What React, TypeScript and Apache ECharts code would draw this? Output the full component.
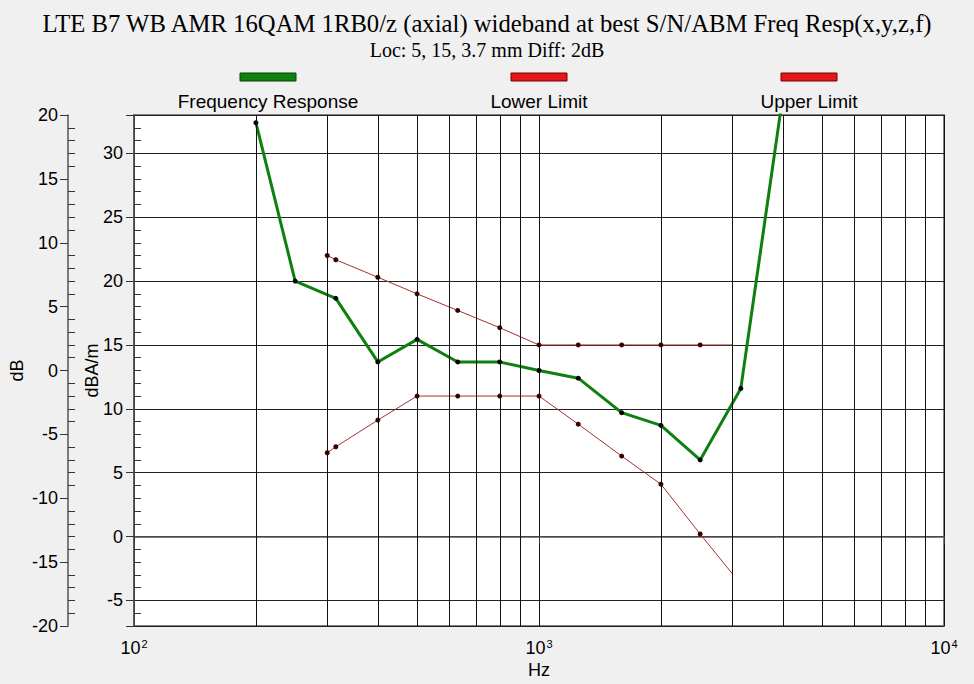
import React, { useEffect, useRef } from 'react';
import * as echarts from 'echarts';

const titleText = 'LTE B7 WB AMR 16QAM 1RB0/z (axial) wideband at best S/N/ABM Freq Resp(x,y,z,f)';
const subtitleText = 'Loc: 5, 15, 3.7 mm Diff: 2dB';

const seriesNames = ['Frequency Response', 'Lower Limit', 'Upper Limit'];

// Frequency response (dBA/m)
const respFreqs = [200, 250, 315, 400, 500, 630, 800, 1000, 1250, 1600, 2000, 2500, 3150, 4000];
const respValues = [32.4, 20.0, 18.65, 13.67, 15.44, 13.67, 13.67, 13.0, 12.4, 9.7, 8.7, 6.0, 11.6, 34.5];

// Limits (dBA/m)
const limitFreqs = [300, 315, 400, 500, 630, 800, 1000, 1250, 1600, 2000, 2500, 3000];
const lowerValues = [6.56, 7.03, 9.12, 11.0, 11.0, 11.0, 11.0, 8.8, 6.3, 4.1, 0.2, -2.9];
const upperValues = [22.0, 21.67, 20.3, 19.0, 17.7, 16.35, 15.0, 15.0, 15.0, 15.0, 15.0, 15.0];

// Minor log gridlines (Hz)
const minorFreqs = [200, 300, 400, 500, 600, 700, 800, 900, 2000, 3000, 4000, 5000, 6000, 7000, 8000, 9000];

const GREEN = '#0f7f0f';
const RED_LINE = '#a83030';
const RED_LEGEND = '#e01818';

export default function App() {
  const ref = useRef<HTMLDivElement>(null);

  useEffect(() => {
    document.body.style.margin = '0';
    document.body.style.background = '#f0f0f0';
    const chart = echarts.init(ref.current!, null, { renderer: 'svg' });

    const respData = respFreqs.map((f, i) => [f, respValues[i]]);
    const limitData = (vals: number[]) =>
      limitFreqs.map((f, i) => ({
        value: [f, vals[i]],
        symbol: i === limitFreqs.length - 1 ? 'none' : 'circle',
      }));

    const legendCenters = [268, 539, 809];
    const legendColors = [GREEN, RED_LEGEND, RED_LEGEND];
    const legendBorders = ['#064006', '#7a0000', '#7a0000'];
    const legendGraphics: any[] = [];
    seriesNames.forEach((n, i) => {
      legendGraphics.push({
        type: 'rect',
        shape: { x: legendCenters[i] - 28, y: 73, width: 56, height: 8 },
        style: { fill: legendColors[i], stroke: legendBorders[i], lineWidth: 1 },
      });
      legendGraphics.push({
        type: 'text',
        x: legendCenters[i],
        y: 101,
        style: {
          text: n,
          fill: '#000',
          font: '19px "Liberation Sans", Arial, sans-serif',
          align: 'center',
          verticalAlign: 'middle',
        },
      });
    });

    const axisLabelFont = { fontFamily: '"Liberation Sans", Arial, sans-serif', fontSize: 18, color: '#000' };

    chart.setOption({
      animation: false,
      backgroundColor: '#f0f0f0',
      title: {
        text: titleText,
        subtext: subtitleText,
        left: 'center',
        top: 6,
        itemGap: 4,
        textStyle: {
          fontFamily: '"Liberation Serif", "Times New Roman", serif',
          fontSize: 24.7,
          fontWeight: 'normal',
          color: '#000',
        },
        subtextStyle: {
          fontFamily: '"Liberation Serif", "Times New Roman", serif',
          fontSize: 20,
          color: '#000',
        },
      },
      graphic: legendGraphics,
      grid: {
        left: 134,
        right: 30,
        top: 115,
        bottom: 58,
        containLabel: false,
        outerBoundsMode: 'none',
        show: true,
        backgroundColor: '#ffffff',
        borderColor: '#808080',
        borderWidth: 2,
      },
      xAxis: {
        type: 'log',
        logBase: 10,
        min: 100,
        max: 10000,
        name: 'Hz',
        nameLocation: 'middle',
        nameGap: 35,
        nameMoveOverlap: false,
        nameTextStyle: axisLabelFont,
        axisLine: { show: true, lineStyle: { color: '#555', width: 1.5 } },
        axisTick: { show: true, inside: false, length: 8, lineStyle: { color: '#333' } },
        splitLine: { show: true, lineStyle: { color: '#111', width: 1 } },
        axisLabel: {
          margin: 12,
          formatter: (v: number) => `{b|10}{s|${Math.round(Math.log10(v))}}`,
          rich: {
            b: { ...axisLabelFont },
            s: { fontFamily: axisLabelFont.fontFamily, fontSize: 11, color: '#000', verticalAlign: 'top', padding: [0, 0, 8, 1] },
          },
        },
      },
      yAxis: [
        {
          type: 'value',
          position: 'left',
          min: -7,
          max: 33,
          splitNumber: 8,
          name: 'dBA/m',
          nameLocation: 'middle',
          nameGap: 33,
          nameMoveOverlap: false,
          nameTextStyle: axisLabelFont,
          axisLine: { show: true, lineStyle: { color: '#555', width: 1.5 } },
          axisTick: { show: true, inside: false, length: 8, lineStyle: { color: '#333' } },
          minorTick: { show: true, splitNumber: 5, length: -7, lineStyle: { color: '#333' } },
          axisLabel: { ...axisLabelFont, margin: 11, showMinLabel: false, showMaxLabel: false },
          splitLine: { show: true, lineStyle: { color: '#222', width: 1 } },
        },
        {
          type: 'value',
          position: 'left',
          offset: 66,
          min: -20,
          max: 20,
          interval: 5,
          name: 'dB',
          nameLocation: 'middle',
          nameGap: 42,
          nameMoveOverlap: false,
          nameTextStyle: axisLabelFont,
          axisLine: { show: true, onZero: false, lineStyle: { color: '#555', width: 1.5 } },
          axisTick: { show: true, inside: false, length: 8, lineStyle: { color: '#333' } },
          minorTick: { show: true, splitNumber: 5, length: -7, lineStyle: { color: '#333' } },
          axisLabel: { ...axisLabelFont, margin: 10 },
          splitLine: { show: false },
        },
      ],
      series: [
        {
          name: 'minor-grid',
          type: 'line',
          data: [],
          z: 1,
          silent: true,
          markLine: {
            silent: true,
            symbol: ['none', 'none'],
            label: { show: false },
            lineStyle: { color: '#111', width: 1, type: 'solid' },
            emphasis: { disabled: true },
            data: minorFreqs.map((f) => ({ xAxis: f })),
          },
        },
        {
          name: seriesNames[1],
          type: 'line',
          yAxisIndex: 0,
          data: limitData(lowerValues),
          symbol: 'circle',
          symbolSize: 5,
          itemStyle: { color: '#3a0000' },
          lineStyle: { color: RED_LINE, width: 1 },
          z: 3,
        },
        {
          name: seriesNames[2],
          type: 'line',
          yAxisIndex: 0,
          data: limitData(upperValues),
          symbol: 'circle',
          symbolSize: 5,
          itemStyle: { color: '#3a0000' },
          lineStyle: { color: RED_LINE, width: 1 },
          z: 3,
        },
        {
          name: seriesNames[0],
          type: 'line',
          yAxisIndex: 0,
          data: respData,
          symbol: 'circle',
          symbolSize: 5,
          itemStyle: { color: '#000' },
          lineStyle: { color: GREEN, width: 3 },
          clip: true,
          z: 4,
        },
      ],
    });

    return () => chart.dispose();
  }, []);

  return (
    <div
      ref={ref}
      style={{ position: 'absolute', left: 0, top: 0, width: 974, height: 684, background: '#f0f0f0' }}
    />
  );
}
